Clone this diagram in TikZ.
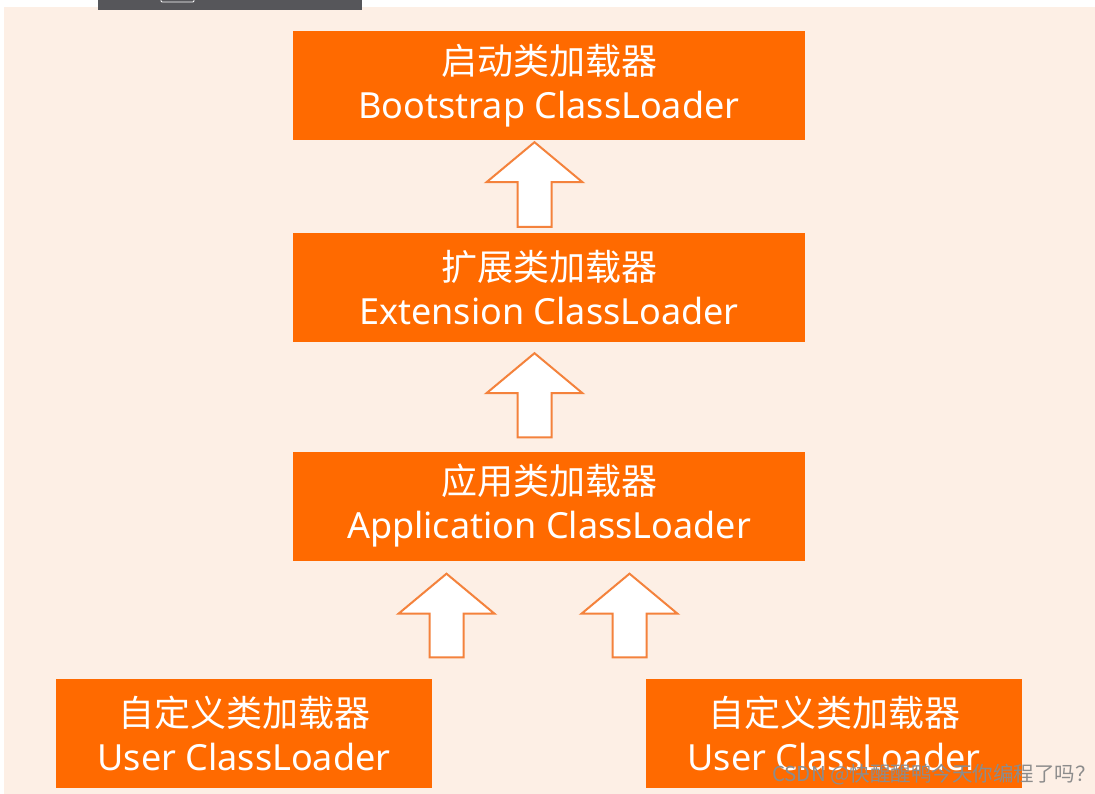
\documentclass[tikz,border=0pt]{standalone}
\usepackage{fontspec}
\setmainfont{Noto Sans}
\newfontfamily\cjk{Noto Sans CJK SC}
\usetikzlibrary{calc, positioning}
\definecolor{loaderorange}{HTML}{FF6A00}
\definecolor{arroworange}{HTML}{F4823C}
\definecolor{bgpeach}{HTML}{FDEFE5}
\definecolor{bargray}{HTML}{56565A}
\definecolor{markgray}{HTML}{8C8C8C}

\begin{document}
\begin{tikzpicture}[x=1pt, y=-1pt,
  loader/.style={fill=loaderorange, text=white, inner sep=0pt, minimum height=109pt,
    align=center, font=\fontsize{36}{44}\selectfont},
  hollow/.style={draw=arroworange, line width=2pt, fill=white, line join=miter},
  watermark/.style={text=markgray, font=\cjk\fontsize{20.5}{20.5}\selectfont, inner sep=0pt, anchor=west}]
\useasboundingbox (0,0) rectangle (1095,794);
\fill[white] (0,0) rectangle (1095,794);
\fill[bgpeach] (4,7) rectangle (1095,794);
\fill[bargray] (98,0) rectangle (362,10);
\draw[white, line width=0.8pt, rounded corners=1pt] (161,-3) rectangle (194,2);

% the loaders
\foreach \name/\ax/\ay/\w/\cn/\en in {boot/549/85.5/512/启动类加载器/Bootstrap ClassLoader,
    ext/549/287.5/512/扩展类加载器/Extension ClassLoader,
    app/549/506/512/应用类加载器/Application ClassLoader,
    userA/244/733/376/自定义类加载器/User ClassLoader,
    userB/834/733/376/自定义类加载器/User ClassLoader}{
  \node[loader, minimum width=\w pt] (\name) at (\ax,\ay) {{\cjk\cn}\\\en};
}

% hollow arrows, child up to parent
\foreach \ax/\lo/\up/\gb/\gt in {534.5/ext/boot/6/2, 534.5/app/ext/14/11,
    446.5/userA/app/21/13, 629.5/userB/app/21/13}{
  \draw[hollow] let \p1=(\lo.north), \p2=(\up.south) in
    (\ax pt-17pt,\y1+\gb pt) -- (\ax pt-17pt,\y2-\gt pt-40pt) -- (\ax pt-48pt,\y2-\gt pt-40pt)
    -- (\ax pt,\y2-\gt pt) -- (\ax pt+48pt,\y2-\gt pt-40pt) -- (\ax pt+17pt,\y2-\gt pt-40pt)
    -- (\ax pt+17pt,\y1+\gb pt) -- cycle;
}

\node[watermark] (wm) at (772,775) {CSDN @快醒醒鸭今天你编程了吗？};
\end{tikzpicture}
\end{document}
